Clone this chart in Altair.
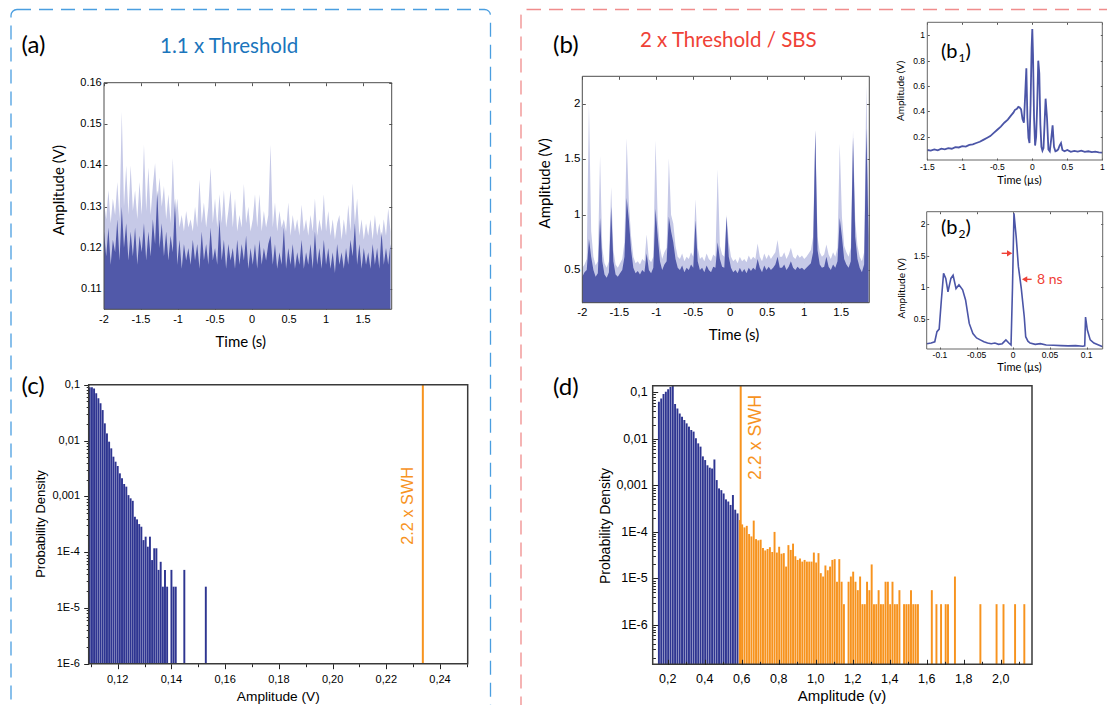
import altair as alt
import pandas as pd

W, H, OFF = 1099, 697, 8
FONT_UI = "Lato"
FONT_AX = "Liberation Sans"
NAVY = "#5159a9"
LAV = "#c6c9e7"
LINE = "#4b55a7"
BAR_BLUE = "#2e3591"
ORANGE = "#f7931e"
RED = "#ef4136"
BLUE_T = "#1b75bc"

# ---------------- data: (a) 1.1 x threshold time trace ----------------
a_t0, a_dt = -2.0, 0.03
a_peak = [0.131, 0.127, 0.134, 0.126, 0.132, 0.128, 0.136, 0.127, 0.153, 0.130,
          0.140, 0.128, 0.140, 0.129, 0.134, 0.127, 0.136, 0.128, 0.145, 0.129,
          0.1395, 0.128, 0.135, 0.1405, 0.131, 0.137, 0.130, 0.135, 0.127, 0.133,
          0.126, 0.1418, 0.127, 0.132, 0.125, 0.128, 0.124, 0.129, 0.125, 0.127,
          0.124, 0.130, 0.125, 0.1365, 0.126, 0.131, 0.125, 0.130, 0.1395, 0.126,
          0.132, 0.125, 0.133, 0.126, 0.134, 0.125, 0.129, 0.134, 0.125, 0.132,
          0.124, 0.128, 0.125, 0.1355, 0.126, 0.130, 0.124, 0.127, 0.133, 0.125,
          0.133, 0.124, 0.129, 0.125, 0.128, 0.145, 0.125, 0.131, 0.124, 0.129,
          0.125, 0.127, 0.124, 0.131, 0.123, 0.128, 0.124, 0.127, 0.123, 0.1305,
          0.124, 0.127, 0.123, 0.128, 0.124, 0.132, 0.123, 0.127, 0.124, 0.133,
          0.124, 0.129, 0.123, 0.127, 0.122, 0.126, 0.128, 0.122, 0.127, 0.123,
          0.1305, 0.124, 0.1356, 0.126, 0.132, 0.123, 0.127, 0.122, 0.126, 0.123,
          0.127, 0.122, 0.128, 0.123, 0.126, 0.122, 0.127, 0.123, 0.1296, 0.124]
a_body = [0.124, 0.118, 0.125, 0.116, 0.122, 0.119, 0.127, 0.117, 0.130, 0.120,
          0.126, 0.117, 0.124, 0.118, 0.125, 0.116, 0.123, 0.119, 0.126, 0.117,
          0.124, 0.118, 0.127, 0.121, 0.134, 0.120, 0.126, 0.118, 0.124, 0.117,
          0.123, 0.119, 0.132, 0.116, 0.122, 0.115, 0.121, 0.117, 0.120, 0.116,
          0.122, 0.117, 0.121, 0.115, 0.124, 0.117, 0.121, 0.116, 0.125, 0.117,
          0.120, 0.116, 0.127, 0.117, 0.122, 0.115, 0.121, 0.117, 0.120, 0.115,
          0.122, 0.116, 0.121, 0.117, 0.123, 0.115, 0.120, 0.116, 0.121, 0.115,
          0.122, 0.116, 0.120, 0.117, 0.121, 0.123, 0.116, 0.121, 0.115, 0.119,
          0.116, 0.125, 0.115, 0.120, 0.116, 0.121, 0.115, 0.119, 0.116, 0.122,
          0.115, 0.119, 0.116, 0.121, 0.115, 0.124, 0.116, 0.120, 0.115, 0.122,
          0.116, 0.120, 0.115, 0.119, 0.114, 0.121, 0.116, 0.119, 0.115, 0.120,
          0.116, 0.122, 0.118, 0.126, 0.116, 0.121, 0.115, 0.120, 0.116, 0.119,
          0.115, 0.121, 0.116, 0.120, 0.115, 0.124, 0.116, 0.120, 0.116, 0.121]

# ---------------- data: (b) 2 x threshold time trace ----------------
b_t0, b_dt = -2.0, 0.03
b_peak = [0.52, 0.55, 0.60, 2.00, 0.85, 0.62, 0.54, 0.58, 1.53, 0.70,
          0.56, 0.52, 0.58, 1.25, 0.68, 0.55, 0.52, 0.56, 0.60, 0.75,
          1.69, 1.10, 0.80, 0.62, 0.56, 0.58, 0.55, 0.60, 0.58, 0.82,
          0.60, 0.57, 0.62, 1.67, 0.95, 0.70, 0.60, 0.66, 0.70, 1.51,
          1.00, 0.92, 0.72, 0.62, 0.60, 0.65, 0.58, 0.62, 0.60, 0.66,
          0.62, 1.14, 0.70, 0.60, 0.62, 0.58, 0.65, 0.60, 0.58, 0.64,
          0.62, 1.41, 0.72, 0.64, 0.62, 1.00, 0.75, 0.62, 0.58, 0.60,
          0.56, 0.62, 0.58, 0.60, 0.57, 0.63, 0.59, 0.62, 0.60, 0.74,
          0.62, 0.58, 0.65, 0.60, 0.64, 0.60, 0.63, 0.66, 0.77, 0.62,
          0.62, 0.66, 0.60, 0.64, 0.70, 0.62, 0.60, 0.64, 0.61, 0.63,
          0.60, 0.62, 0.65, 0.68, 0.80, 1.77, 0.80, 0.66, 0.62, 0.64,
          0.73, 0.64, 0.60, 0.66, 0.62, 0.70, 1.64, 0.98, 0.72, 0.66,
          0.62, 0.70, 1.76, 0.95, 0.72, 0.62, 0.58, 0.66, 2.17, 1.00]
b_body = [0.44, 0.48, 0.50, 0.78, 0.62, 0.50, 0.44, 0.47, 0.97, 0.58,
          0.46, 0.43, 0.48, 1.07, 0.58, 0.46, 0.44, 0.47, 0.50, 0.62,
          1.15, 0.95, 0.68, 0.52, 0.47, 0.49, 0.46, 0.50, 0.48, 0.65,
          0.50, 0.47, 0.52, 1.05, 0.80, 0.58, 0.50, 0.55, 0.58, 0.98,
          0.85, 0.75, 0.60, 0.52, 0.50, 0.54, 0.48, 0.52, 0.50, 0.55,
          0.52, 0.95, 0.58, 0.50, 0.52, 0.48, 0.54, 0.50, 0.48, 0.53,
          0.52, 0.75, 0.60, 0.53, 0.52, 0.98, 0.62, 0.52, 0.48, 0.50,
          0.47, 0.52, 0.48, 0.51, 0.47, 0.52, 0.49, 0.52, 0.50, 0.60,
          0.52, 0.48, 0.54, 0.50, 0.53, 0.50, 0.52, 0.55, 0.62, 0.52,
          0.52, 0.55, 0.50, 0.53, 0.58, 0.52, 0.50, 0.53, 0.51, 0.52,
          0.50, 0.52, 0.54, 0.56, 0.66, 1.76, 0.68, 0.55, 0.52, 0.53,
          0.62, 0.53, 0.50, 0.55, 0.52, 0.58, 0.97, 0.80, 0.60, 0.55,
          0.52, 0.58, 1.70, 0.80, 0.60, 0.52, 0.48, 0.55, 1.78, 0.80]

# ---------------- data: (b1) single event ----------------
b1_time = [-1.5, -1.45, -1.4, -1.35, -1.3, -1.25, -1.2, -1.15, -1.1, -1.05, -1.0, -0.95,
           -0.9, -0.85, -0.8, -0.75, -0.7, -0.65, -0.6, -0.55, -0.5, -0.45, -0.4, -0.35,
           -0.3, -0.27, -0.25, -0.22, -0.2, -0.18, -0.16, -0.14, -0.12, -0.1, -0.085,
           -0.07, -0.055, -0.04, -0.025, -0.01, 0.0, 0.01, 0.025, 0.04, 0.055, 0.07,
           0.085, 0.1, 0.115, 0.13, 0.145, 0.16, 0.175, 0.19, 0.21, 0.23, 0.25, 0.27,
           0.29, 0.31, 0.33, 0.35, 0.37, 0.39, 0.41, 0.43, 0.46, 0.5, 0.55, 0.6, 0.65,
           0.7, 0.75, 0.8, 0.85, 0.9, 0.95, 1.0]
b1_amp = [0.095, 0.09, 0.1, 0.092, 0.105, 0.1, 0.11, 0.105, 0.118, 0.115, 0.125, 0.122,
          0.135, 0.14, 0.15, 0.16, 0.175, 0.19, 0.205, 0.23, 0.255, 0.28, 0.31, 0.335,
          0.37, 0.39, 0.41, 0.42, 0.435, 0.43, 0.415, 0.34, 0.31, 0.55, 0.74,
          0.35, 0.19, 0.15, 0.45, 0.9, 1.05, 0.85, 0.35, 0.13, 0.2, 0.45,
          0.8, 0.7, 0.3, 0.12, 0.09, 0.11, 0.3, 0.5, 0.35, 0.1, 0.085, 0.18,
          0.29, 0.12, 0.085, 0.09, 0.1, 0.13, 0.15, 0.095, 0.085, 0.095, 0.08, 0.088, 0.082,
          0.09, 0.08, 0.085, 0.078, 0.082, 0.076, 0.075]

# ---------------- data: (b2) rogue event ----------------
b2_time = [-0.118, -0.112, -0.107, -0.104, -0.101, -0.098, -0.095, -0.092, -0.089, -0.085,
           -0.082, -0.078, -0.074, -0.069, -0.065, -0.06, -0.055, -0.05, -0.045, -0.04,
           -0.035, -0.03, -0.025, -0.02, -0.015, -0.01, -0.006, -0.003, -0.001, 0.001,
           0.004, 0.007, 0.011, 0.015, 0.017, 0.02, 0.023, 0.03, 0.037, 0.045, 0.055,
           0.065, 0.075, 0.085, 0.095, 0.0975, 0.0986, 0.101, 0.105, 0.11, 0.114, 0.118, 0.122]
b2_amp = [0.11, 0.12, 0.14, 0.30, 0.34, 0.80, 1.22, 1.14, 0.93, 1.14,
          1.19, 0.98, 1.04, 0.96, 0.80, 0.43, 0.27, 0.2, 0.17, 0.14,
          0.12, 0.11, 0.12, 0.1, 0.11, 0.17, 0.12, 0.09, 1.0, 2.17,
          1.8, 1.33, 0.98, 0.54, 0.22, 0.15, 0.12, 0.1, 0.11, 0.09, 0.085,
          0.08, 0.075, 0.08, 0.07, 0.075, 0.53, 0.33, 0.17, 0.12, 0.1, 0.08, 0.06]
fwhm_arrow_left = [-0.0158, -0.0049, 1.537]   # shaft start, head centre, level
fwhm_arrow_right = [0.0251, 0.0155, 1.126]

# ---------------- data: (c) histogram ----------------
c_bin_start, c_bin_width = 0.1096, 0.0008
c_density = [0.0896, 0.0896, 0.0859, 0.070, 0.0569, 0.0463, 0.0351, 0.0203, 0.0134, 0.00953,
             0.00723, 0.00513, 0.00417, 0.00349, 0.00258, 0.0021, 0.00166, 0.00149, 0.00105,
             0.00092, 0.00083, 0.00043, 0.000386, 0.000318, 0.000285, 0.000164, 0.000189,
             0.000125, 0.000189, 0.000072, 0.000117, 0.000117, 0.000048, 0.000067, 0.000024,
             0.000048, 0.000024, 0, 0.000048, 0.000024, 0.000024, 0, 0, 0, 0.000048,
             0, 0, 0, 0, 0, 0, 0, 0, 0, 0.000024]
c_swh = 0.2336

# ---------------- data: (d) histogram ----------------
d_bin_start, d_bin_width = 0.1525, 0.0125
d_split = 35
d_density = [0.063, 0.074, 0.092, 0.103, 0.116, 0.13, 0.14, 0.056, 0.045, 0.035,
             0.030, 0.0254, 0.0215, 0.0183, 0.0155, 0.0143, 0.0103, 0.008, 0.0068, 0.0042,
             0.0035, 0.0027, 0.0024, 0.0023, 0.0036, 0.0013, 0.00086, 0.00079, 0.00067, 0.0005,
             0.00045, 0.00038, 0.00062, 0.0003, 0.00025,
             1.8e-4, 1.45e-4, 1.25e-4, 1.35e-4, 9e-5, 8e-5, 1.75e-4, 7e-5, 6.6e-5, 6.8e-5,
             4.5e-5, 4e-5, 4.3e-5, 4.7e-5, 3.7e-5, 1.0e-4, 3.6e-5, 4.8e-5, 3.4e-5, 3.5e-5,
             1.8e-5, 5.2e-5, 4.1e-5, 5.6e-5, 3.0e-5, 2.5e-5, 2.7e-5, 2.3e-5, 2.5e-5, 2.3e-5,
             2.3e-5, 2.3e-5, 3.6e-5, 2.2e-5, 3.5e-5, 1.3e-5, 1.1e-5, 1.9e-5, 1.5e-5, 1.8e-5,
             2.5e-5, 2.6e-5, 8.5e-6, 2.6e-5, 8.5e-6, 2.8e-6, 0, 8.5e-6, 1.1e-5, 1.4e-5,
             8.5e-6, 5.6e-6, 1.1e-5, 2.8e-6, 2.8e-6, 8.5e-6, 5.6e-6, 2.0e-5, 2.8e-6, 2.8e-6,
             5.6e-6, 2.8e-6, 2.8e-6, 8.5e-6, 8.5e-6, 2.8e-6, 8.5e-6, 2.8e-6, 2.8e-6, 5.6e-6,
             0, 2.8e-6, 2.8e-6, 2.8e-6, 5.6e-6, 2.8e-6, 2.8e-6, 2.8e-6, 0, 0,
             0, 0, 0, 5.6e-6, 0, 2.8e-6, 0, 2.8e-6, 0, 2.8e-6,
             2.8e-6, 0, 0, 1.1e-5, 0, 0, 0, 0, 0, 0,
             0, 0, 0, 0, 2.8e-6, 0, 0, 0, 0, 0,
             0, 2.8e-6, 0, 0, 2.8e-6, 0, 0, 0, 0, 2.8e-6,
             0, 0, 0, 2.8e-6]
d_swh = 0.5946

# ---------------- tick values / labels ----------------
a_xticks = [-2, -1.5, -1, -0.5, 0, 0.5, 1, 1.5]
a_xlabels = ["-2", "-1.5", "-1", "-0.5", "0", "0.5", "1", "1.5"]
a_yticks = [0.11, 0.12, 0.13, 0.14, 0.15, 0.16]
a_ylabels = ["0.11", "0.12", "0.13", "0.14", "0.15", "0.16"]
b_yticks = [0.5, 1, 1.5, 2]
b_ylabels = ["0.5", "1", "1.5", "2"]
b1_xticks = [-1.5, -1, -0.5, 0, 0.5, 1]
b1_xlabels = ["-1.5", "-1", "-0.5", "0", "0.5", "1"]
b1_yticks = [0.2, 0.4, 0.6, 0.8, 1]
b1_ylabels = ["0.2", "0.4", "0.6", "0.8", "1"]
b2_xticks = [-0.1, -0.05, 0, 0.05, 0.1]
b2_xlabels = ["-0.1", "-0.05", "0", "0.05", "0.1"]
b2_yticks = [0.5, 1, 1.5, 2]
b2_ylabels = ["0.5", "1", "1.5", "2"]
c_xticks = [0.12, 0.14, 0.16, 0.18, 0.20, 0.22, 0.24]
c_xlabels = ["0,12", "0,14", "0,16", "0,18", "0,20", "0,22", "0,24"]
c_xminor = [0.11, 0.13, 0.15, 0.17, 0.19, 0.21, 0.23, 0.25]
log_major = [1e-6, 1e-5, 1e-4, 1e-3, 1e-2, 1e-1]
log_labels = ["1E-6", "1E-5", "1E-4", "0,001", "0,01", "0,1"]
c_yminor = [k * 10.0 ** e for e in range(-6, -1) for k in range(2, 10)]
d_xticks = [0.2, 0.4, 0.6, 0.8, 1.0, 1.2, 1.4, 1.6, 1.8, 2.0]
d_xlabels = ["0,2", "0,4", "0,6", "0,8", "1,0", "1,2", "1,4", "1,6", "1,8", "2,0"]
d_xminor = [0.3, 0.5, 0.7, 0.9, 1.1, 1.3, 1.5, 1.7, 1.9, 2.1]
d_yminor = [k * 10.0 ** e for e in range(-7, -1) for k in range(2, 10) if k * 10.0 ** e >= 1.5e-7]

# ---------------- panel geometry (page pixels) ----------------
P = {
    "a": dict(l=104, r=391.7, t=82.7, b=309.3, xd=[-2, 1.887], yd=[0.1052, 0.16]),
    "b": dict(l=582.3, r=869.3, t=76.3, b=302.7, xd=[-2, 1.88], yd=[0.2045, 2.25]),
    "b1": dict(l=927.3, r=1102.3, t=22.3, b=160, xd=[-1.5, 1.0], yd=[0.016, 1.103]),
    "b2": dict(l=926.7, r=1102.7, t=211.7, b=349, xd=[-0.118, 0.122], yd=[0.026, 2.194]),
    "c": dict(l=88.7, r=467.7, t=384.7, b=663.7, xd=[0.1092, 0.2503], yd=[1e-6, 0.1], yt="log"),
    "d": dict(l=652.7, r=1032, t=385.7, b=664.3, xd=[0.119, 2.169], yd=[1.43e-7, 0.1386], yt="log"),
}


def near(v):
    return f"abs(datum.value - ({v!r})) <= {abs(v) * 1e-6 + 1e-12!r}"


def major_size(majors, big, small):
    return {"condition": {"test": " || ".join(near(v) for v in majors), "value": big}, "value": small}


def scales(p):
    xs = alt.Scale(domain=p["xd"], range=[p["l"] - OFF, p["r"] - OFF], nice=False, zero=False,
                   type=p.get("xt", "linear"))
    ys = alt.Scale(domain=p["yd"], range=[p["b"] - OFF, p["t"] - OFF], nice=False, zero=False,
                   type=p.get("yt", "linear"))
    return xs, ys


def label_layers(p, xt, xl, yt, yl, fs, xpad, ypad):
    """Tick labels placed through the panel's own scales."""
    xs, ys = scales(p)
    dx = pd.DataFrame({"v": xt, "lab": xl})
    dy = pd.DataFrame({"v": yt, "lab": yl})
    lx = alt.Chart(dx).mark_text(font=FONT_AX, fontSize=fs, baseline="top", align="center",
                                 color="#000000").encode(
        x=alt.X("v:Q", scale=xs, axis=None), y=alt.value(p["b"] - OFF + xpad), text="lab:N")
    ly = alt.Chart(dy).mark_text(font=FONT_AX, fontSize=fs, baseline="middle", align="right",
                                 color="#000000").encode(
        x=alt.value(p["l"] - OFF - ypad), y=alt.Y("v:Q", scale=ys, axis=None), text="lab:N")
    return [lx, ly]


def tick_layer(p, xv, yv, xorient, xoff, yorient, yoff, xsize, ysize, color, z=0):
    xs, ys = scales(p)
    df = pd.DataFrame({"x": p["xd"], "y": p["yd"]})
    common = dict(labels=False, ticks=True, tickColor=color, tickWidth=1, domain=False, grid=False,
                  title=None, zindex=z)
    ax = alt.Axis(orient=xorient, offset=xoff, values=xv, tickSize=xsize, **common)
    ay = alt.Axis(orient=yorient, offset=yoff, values=yv, tickSize=ysize, **common)
    return alt.Chart(df).mark_point(opacity=0).encode(
        x=alt.X("x:Q", scale=xs, axis=ax), y=alt.Y("y:Q", scale=ys, axis=ay))


def matlab_ticks(p, xv, yv, size, color="#555555"):
    t1 = tick_layer(p, xv, yv, "top", -(p["b"] - OFF), "right", (p["l"] - OFF) - W, size, size, color)
    t2 = tick_layer(p, xv, yv, "bottom", (p["t"] - OFF) - H, "left", -(p["r"] - OFF), size, size, color)
    return [t1, t2]


def frame(p, color, width):
    df = pd.DataFrame({"x0": [p["xd"][0]], "x1": [p["xd"][1]], "y0": [p["yd"][0]], "y1": [p["yd"][1]]})
    return alt.Chart(df).mark_rect(fillOpacity=0, stroke=color, strokeWidth=width).encode(
        x=alt.X("x0:Q", axis=None), x2="x1:Q", y=alt.Y("y0:Q", axis=None), y2="y1:Q")


layers = []

# ---------------- decorations: dashed boxes ----------------
boxes = pd.DataFrame({"x0": [11 - OFF, 521 - OFF], "x1": [490.5 - OFF, 1160 - OFF],
                      "y0": [9.5 - OFF, 9.5 - OFF], "y1": [740 - OFF, 740 - OFF],
                      "c": ["#4a9ee0", "#f08c8c"]})
layers.append(alt.Chart(boxes).mark_rect(fillOpacity=0, strokeWidth=1.3, strokeDash=[14, 8], cornerRadius=6).encode(
    x=alt.X("x0:Q", scale=None, axis=None), x2="x1:Q",
    y=alt.Y("y0:Q", scale=None, axis=None), y2="y1:Q",
    stroke=alt.Stroke("c:N", scale=None, legend=None)))


# ---------------- (a) and (b): time traces ----------------
def trace_panel(p, t0, dt, peak, body):
    xs, ys = scales(p)
    df = pd.DataFrame({"t": [t0 + dt * i for i in range(len(peak))], "peak": peak, "body": body})
    light = alt.Chart(df).mark_area(color=LAV).encode(
        x=alt.X("t:Q", scale=xs, axis=None), y=alt.Y("peak:Q", scale=ys, axis=None), y2=alt.datum(p["yd"][0]))
    dark = alt.Chart(df).mark_area(color=NAVY).encode(
        x=alt.X("t:Q", axis=None), y=alt.Y("body:Q", axis=None), y2=alt.datum(p["yd"][0]))
    return alt.layer(light, dark, frame(p, "#4d4d4d", 1))


pa = P["a"]
layers.append(trace_panel(pa, a_t0, a_dt, a_peak, a_body))
layers += matlab_ticks(pa, a_xticks, a_yticks, 3)
layers += label_layers(pa, a_xticks, a_xlabels, a_yticks, a_ylabels, 11, 4.3, 2.3)

pb = P["b"]
layers.append(trace_panel(pb, b_t0, b_dt, b_peak, b_body))
layers += matlab_ticks(pb, a_xticks, b_yticks, 3)
layers += label_layers(pb, a_xticks, a_xlabels, b_yticks, b_ylabels, 11.5, 4.1, 2)

# ---------------- (b1) ----------------
pb1 = P["b1"]
xs, ys = scales(pb1)
df_b1 = pd.DataFrame({"t": b1_time, "v": b1_amp})
layers.append(alt.layer(
    alt.Chart(df_b1).mark_line(color=LINE, strokeWidth=1.8).encode(
        x=alt.X("t:Q", scale=xs, axis=None), y=alt.Y("v:Q", scale=ys, axis=None)),
    frame(pb1, "#666666", 1)))
layers += matlab_ticks(pb1, b1_xticks, b1_yticks, 2)
layers += label_layers(pb1, b1_xticks, b1_xlabels, b1_yticks, b1_ylabels, 8.5, 3, 2.3)

# ---------------- (b2) ----------------
pb2 = P["b2"]
xs, ys = scales(pb2)
df_b2 = pd.DataFrame({"t": b2_time, "v": b2_amp})
arrows = pd.DataFrame({"x0": [fwhm_arrow_left[0], fwhm_arrow_right[0]],
                       "x1": [fwhm_arrow_left[1], fwhm_arrow_right[1]],
                       "y": [fwhm_arrow_left[2], fwhm_arrow_right[2]],
                       "shape": ["triangle-right", "triangle-left"]})
layers.append(alt.layer(
    alt.Chart(df_b2).mark_line(color=LINE, strokeWidth=1.6).encode(
        x=alt.X("t:Q", scale=xs, axis=None), y=alt.Y("v:Q", scale=ys, axis=None)),
    alt.Chart(arrows).mark_rule(color=RED, strokeWidth=1.4).encode(
        x=alt.X("x0:Q", axis=None), x2="x1:Q", y=alt.Y("y:Q", axis=None)),
    alt.Chart(arrows).mark_point(filled=True, color=RED, size=38, opacity=1).encode(
        x=alt.X("x1:Q", axis=None), y=alt.Y("y:Q", axis=None), shape=alt.Shape("shape:N", scale=None, legend=None)),
    frame(pb2, "#666666", 1)))
layers += matlab_ticks(pb2, b2_xticks, b2_yticks, 2)
layers += label_layers(pb2, b2_xticks, b2_xlabels, b2_yticks, b2_ylabels, 8.5, 2.3, 1.2)

# ---------------- (c) ----------------
pc = P["c"]
xs, ys = scales(pc)
rows = [(c_bin_start + c_bin_width * j, v) for j, v in enumerate(c_density) if v > 0]
df_c = pd.DataFrame(rows, columns=["c", "v"])
df_c["x0"] = df_c["c"] - c_bin_width * 0.45
df_c["x1"] = df_c["c"] + c_bin_width * 0.45
swh_c_df = pd.DataFrame({"x": [c_swh], "y0": [pc["yd"][0]], "y1": [pc["yd"][1]]})
layers.append(alt.layer(
    alt.Chart(df_c).mark_rect(color=BAR_BLUE).encode(
        x=alt.X("x0:Q", scale=xs, axis=None), x2="x1:Q",
        y=alt.Y("v:Q", scale=ys, axis=None), y2=alt.datum(pc["yd"][0])),
    alt.Chart(swh_c_df).mark_rule(color=ORANGE, strokeWidth=2).encode(
        x=alt.X("x:Q", axis=None), y=alt.Y("y0:Q", axis=None), y2="y1:Q"),
    frame(pc, "#3a3a3a", 1.5)))
layers.append(tick_layer(pc, c_xticks + c_xminor, log_major + c_yminor,
                         "bottom", (pc["b"] - OFF) - H, "left", -(pc["l"] - OFF),
                         major_size(c_xticks, 5, 3), major_size(log_major, 5, 2.5), "#222222"))
layers += label_layers(pc, c_xticks, c_xlabels, log_major, log_labels, 11, 9.9, 8.7)

# ---------------- (d) ----------------
pd_ = P["d"]
xs, ys = scales(pd_)
rows = [(d_bin_start + d_bin_width * i, v, BAR_BLUE if i < d_split else ORANGE)
        for i, v in enumerate(d_density) if v > 0]
df_d = pd.DataFrame(rows, columns=["c", "v", "col"])
df_d["x0"] = df_d["c"] - d_bin_width * 0.42
df_d["x1"] = df_d["c"] + d_bin_width * 0.42
swh_d_df = pd.DataFrame({"x": [d_swh], "y0": [pd_["yd"][0]], "y1": [pd_["yd"][1]]})
layers.append(alt.layer(
    alt.Chart(df_d).mark_rect().encode(
        x=alt.X("x0:Q", scale=xs, axis=None), x2="x1:Q",
        y=alt.Y("v:Q", scale=ys, axis=None), y2=alt.datum(pd_["yd"][0]),
        color=alt.Color("col:N", scale=None, legend=None)),
    alt.Chart(swh_d_df).mark_rule(color=ORANGE, strokeWidth=2).encode(
        x=alt.X("x:Q", axis=None), y=alt.Y("y0:Q", axis=None), y2="y1:Q"),
    frame(pd_, "#3a3a3a", 1.5)))
layers.append(tick_layer(pd_, d_xticks + d_xminor, log_major + d_yminor,
                         "top", -(pd_["b"] - OFF), "right", (pd_["l"] - OFF) - W,
                         major_size(d_xticks, 5, 3), major_size(log_major, 5, 2.7), "#222222", z=1))
layers += label_layers(pd_, d_xticks, d_xlabels, log_major, log_labels, 12.5, 8.3, 5)


# ---------------- decorations: texts ----------------
def texts(rows, font, align, baseline):
    df = pd.DataFrame(rows, columns=["label", "px", "py", "fs", "col", "rot"])
    df["px"] = df["px"] - OFF
    df["py"] = df["py"] - OFF
    return alt.Chart(df).mark_text(font=font, align=align, baseline=baseline).encode(
        x=alt.X("px:Q", scale=None, axis=None),
        y=alt.Y("py:Q", scale=None, axis=None),
        text="label:N",
        size=alt.Size("fs:Q", scale=None, legend=None),
        color=alt.Color("col:N", scale=None, legend=None),
        angle=alt.Angle("rot:Q", scale=None))


K = "#000000"
layers.append(texts([
    ("(a)", 21.5, 52.5, 24, K, 0), ("(b)", 553, 52.5, 24, K, 0),
    ("(c)", 21.5, 394, 24, K, 0), ("(d)", 553, 395, 24, K, 0),
    ("(b", 941, 57.5, 20, K, 0), ("1", 958.5, 61.5, 12, K, 0), (")", 965.5, 57.5, 20, K, 0),
    ("(b", 941, 234, 20, K, 0), ("2", 958.5, 238, 12, K, 0), (")", 965.5, 234, 20, K, 0),
], FONT_UI, "left", "alphabetic"))
layers.append(texts([
    ("1.1 x Threshold", 229.2, 53.3, 20.5, BLUE_T, 0),
    ("2 x Threshold / SBS", 728.3, 46.7, 20.5, RED, 0),
], FONT_UI, "center", "alphabetic"))
layers.append(texts([
    ("Amplitude (V)", 59.3, 190, 15, K, 270), ("Time (s)", 240.7, 341.7, 15, K, 0),
    ("Amplitude (V)", 545, 183.3, 15, K, 270), ("Time (s)", 734, 335, 15, K, 0),
    ("Amplitude (V)", 900.8, 91, 10, K, 270), ("Time (µs)", 1019.5, 181, 11, K, 0),
    ("Amplitude (V)", 901.5, 288.3, 10, K, 270), ("Time (µs)", 1019.5, 368, 11, K, 0),
], FONT_UI, "center", "middle"))
layers.append(texts([("8 ns", 1037, 280, 14, RED, 0)], FONT_UI, "left", "middle"))
layers.append(texts([
    ("Probability Density", 40.8, 524, 13, K, 270), ("Amplitude (V)", 278.3, 696.5, 13.7, K, 0),
    ("Probability Density", 605.5, 526, 14, K, 270), ("Amplitude (v)", 842, 696, 15, K, 0),
    ("2.2 x SWH", 408.3, 505.8, 16.3, ORANGE, 270), ("2.2 x SWH", 755.5, 437.5, 17.8, ORANGE, 270),
], FONT_AX, "center", "middle"))

chart = alt.layer(*layers).resolve_scale(x="independent", y="independent").properties(
    width=W, height=H, autosize=alt.AutoSizeParams(type="none"), padding=0
).configure_view(strokeWidth=0)

chart.save("out.html", embed_options={"renderer": "svg", "actions": False})
